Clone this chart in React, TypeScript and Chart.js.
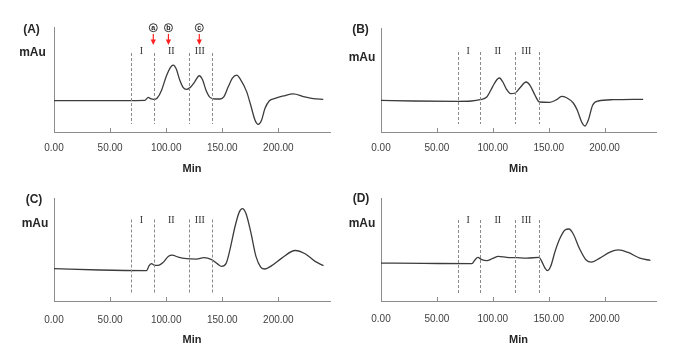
import React, { useEffect, useRef } from 'react';
import { Chart, registerables } from 'chart.js';

Chart.register(...registerables);

// ---- data ----
const xTicks = [0, 50, 100, 150, 200];
const fractionBounds = [69, 89, 120, 141];
const fractionNames = ['I', 'II', 'III'];
const fractionNameX = [78, 104.5, 130];
const markerNames = ['a', 'b', 'c'];
const markerX = [88.5, 102, 129.5];

const timeA = [0, 40, 81, 84, 86, 89, 92, 96, 100, 104, 106.3, 109, 112, 115, 118, 121, 125, 129.5, 132.4, 135.4, 139, 143.5, 148, 151.5, 155.4, 159, 162.8, 166.4, 171.7, 175.3, 179.2, 182, 185, 188, 192, 197, 204.5, 213.4, 222.3, 231, 240];
const mauA = [31, 31, 31.3, 34.3, 33, 32.3, 33.7, 41.7, 55, 64.3, 66.3, 62.3, 51.7, 44.3, 42.3, 43.7, 49, 55.7, 51.7, 41.7, 34.3, 32.7, 32.7, 35, 45, 53.3, 56.3, 51.7, 40, 26.7, 11.7, 7.7, 11.7, 23.3, 31, 33.3, 35.7, 37.7, 35, 33, 32.3];

const timeB = [0, 29, 68, 81, 88.7, 94.6, 100, 103.6, 106, 109, 112.5, 116, 120, 124.4, 129.8, 133.3, 137.8, 141.7, 151, 157, 161.6, 166, 172, 175.6, 179.5, 182.4, 185.4, 189.3, 194.3, 207.7, 234.5];
const mauB = [31.7, 31, 30.7, 31, 32.3, 35, 45.7, 52.3, 54, 50, 42.3, 38.3, 39, 44.3, 50, 46.7, 36.7, 30, 29.7, 32.3, 35.7, 34.3, 29, 21.7, 10, 6, 11.7, 26.7, 31, 32.3, 32.7];

const timeC = [0, 40.8, 82.4, 84.8, 86.9, 89, 92.9, 97.3, 101.8, 105.4, 110.7, 118.2, 127, 133.6, 140.5, 145.5, 149.4, 153.3, 156.8, 161.3, 165.2, 167.9, 171.1, 175.3, 180, 184.2, 188, 194, 203, 214.9, 223.8, 232.7, 240.2];
const mauC = [32.7, 31.3, 30.7, 35.7, 37.7, 36.3, 36, 39, 45, 46.3, 44.3, 42.7, 42.3, 43.7, 41.7, 37.7, 35, 37.7, 51.7, 75, 90, 93.3, 88.3, 70, 45, 34.3, 32.3, 35.7, 43.3, 51, 47.7, 40, 35.7];

const timeD = [0, 38, 81.3, 84.2, 86.6, 90.2, 94.6, 100, 105, 112.5, 121.4, 130.4, 141.4, 143.8, 146.7, 149.1, 151.8, 155.7, 160.1, 164.6, 168.2, 172, 177.4, 183.3, 188.4, 195.8, 204.8, 212.2, 221.1, 231.5, 241];
const mauD = [38.3, 38, 37.7, 41.7, 44, 41.7, 40.7, 43, 45, 44, 43.7, 43.3, 44, 40, 33.3, 30.7, 35, 50, 63.3, 71.7, 72.7, 67.7, 53.3, 41.7, 39.3, 43.3, 49.3, 51.7, 49, 43.3, 41];

// ---- layout of the four panels ----
type Panel = {
  name: string; times: number[]; values: number[];
  left: number; top: number; w: number; h: number;
  padL: number; padT: number; padR: number; xH: number; tickPad: number;
  nameX: number; nameY: number; mauX: number; mauY: number; minY: number;
  romanY: number; dashTop: number; dashBottom: number; markers: boolean;
};

const panels: Panel[] = [
  { name: '(A)', times: timeA, values: mauA, left: 0, top: 0, w: 340, h: 176, padL: 54, padT: 27, padR: 10, xH: 44, tickPad: 10.5,
    nameX: 31.5, nameY: 29.5, mauX: 32.5, mauY: 53, minY: 169, romanY: 51, dashTop: 53, dashBottom: 124, markers: true },
  { name: '(B)', times: timeB, values: mauB, left: 340, top: 0, w: 343, h: 176, padL: 41, padT: 28, padR: 27, xH: 44, tickPad: 10.5,
    nameX: 20.5, nameY: 29.5, mauX: 22, mauY: 57.5, minY: 169, romanY: 51, dashTop: 52, dashBottom: 124, markers: false },
  { name: '(C)', times: timeC, values: mauC, left: 0, top: 176, w: 340, h: 176, padL: 54, padT: 22, padR: 10, xH: 51, tickPad: 13.3,
    nameX: 34, nameY: 23.5, mauX: 35, mauY: 48, minY: 164, romanY: 44, dashTop: 43.5, dashBottom: 117.5, markers: false },
  { name: '(D)', times: timeD, values: mauD, left: 340, top: 176, w: 343, h: 176, padL: 41, padT: 22, padR: 27, xH: 51, tickPad: 12.3,
    nameX: 21, nameY: 23, mauX: 22, mauY: 48, minY: 163.5, romanY: 44, dashTop: 44, dashBottom: 117.5, markers: false },
];

const AXIS = '#8c8c8c';
const TEXT = '#262626';

const overlay = {
  id: 'overlay',
  afterDraw(chart: any, _args: any, opts: any) {
    const p: Panel = opts.panel;
    const { ctx, chartArea } = chart;
    const xs = chart.scales.x;
    ctx.save();
    // inward tick marks
    ctx.strokeStyle = AXIS;
    ctx.lineWidth = 1;
    xTicks.forEach((v) => {
      const px = Math.round(xs.getPixelForValue(v)) + 0.5;
      ctx.beginPath();
      ctx.moveTo(px, chartArea.bottom);
      ctx.lineTo(px, chartArea.bottom - 4);
      ctx.stroke();
    });
    // dashed fraction boundaries
    ctx.setLineDash([3, 2]);
    ctx.strokeStyle = '#8a8a8a';
    fractionBounds.forEach((v) => {
      const px = Math.round(xs.getPixelForValue(v)) + 0.5;
      ctx.beginPath();
      ctx.moveTo(px, p.dashTop);
      ctx.lineTo(px, p.dashBottom);
      ctx.stroke();
    });
    ctx.setLineDash([]);
    // roman numerals
    ctx.font = '10px "Liberation Serif"';
    ctx.fillStyle = '#333';
    ctx.textAlign = 'center';
    ctx.textBaseline = 'middle';
    fractionNames.forEach((n, i) => {
      ctx.fillText(n, xs.getPixelForValue(fractionNameX[i]), p.romanY);
    });
    // panel name and axis titles
    ctx.fillStyle = TEXT;
    ctx.font = 'bold 12px "Liberation Sans"';
    ctx.fillText(p.name, p.nameX, p.nameY);
    ctx.fillText('mAu', p.mauX, p.mauY);
    ctx.font = 'bold 11px "Liberation Sans"';
    ctx.fillText('Min', (chartArea.left + chartArea.right) / 2, p.minY);
    // circled markers with red arrows
    if (p.markers) {
      markerNames.forEach((m, i) => {
        const px = xs.getPixelForValue(markerX[i]);
        ctx.beginPath();
        ctx.arc(px, 27.7, 4, 0, Math.PI * 2);
        ctx.strokeStyle = '#333';
        ctx.lineWidth = 1;
        ctx.stroke();
        ctx.fillStyle = '#222';
        ctx.font = 'bold 7px "Liberation Sans"';
        ctx.fillText(m, px, 28);
        ctx.strokeStyle = '#ff2020';
        ctx.lineWidth = 1.2;
        ctx.beginPath();
        ctx.moveTo(px, 34);
        ctx.lineTo(px, 41);
        ctx.stroke();
        ctx.fillStyle = '#ff2020';
        ctx.beginPath();
        ctx.moveTo(px - 2.6, 39.5);
        ctx.lineTo(px + 2.6, 39.5);
        ctx.lineTo(px, 45);
        ctx.closePath();
        ctx.fill();
      });
    }
    ctx.restore();
  },
};

function PanelChart({ p }: { p: Panel }) {
  const ref = useRef<HTMLCanvasElement>(null);
  useEffect(() => {
    if (!ref.current) return;
    const chart = new Chart(ref.current, {
      type: 'line',
      data: {
        datasets: [
          {
            data: p.times.map((t, i) => ({ x: t, y: p.values[i] })),
            borderColor: '#3c3c3c',
            borderWidth: 1.3,
            pointRadius: 0,
            cubicInterpolationMode: 'monotone',
            fill: false,
          },
        ],
      },
      options: {
        responsive: false,
        animation: false,
        events: [],
        layout: { padding: { left: p.padL, top: p.padT, right: p.padR, bottom: 0 } },
        plugins: { legend: { display: false }, tooltip: { enabled: false }, overlay: { panel: p } } as any,
        scales: {
          x: {
            type: 'linear',
            min: 0,
            max: 246,
            afterBuildTicks: (s: any) => { s.ticks = xTicks.map((v) => ({ value: v })); },
            afterFit: (s: any) => { s.height = p.xH; },
            grid: { display: false, drawTicks: false },
            border: { display: true, color: AXIS, width: 1 },
            ticks: {
              padding: p.tickPad,
              autoSkip: false,
              maxRotation: 0,
              color: '#404040',
              font: { family: '"Liberation Sans"', size: 10 },
              callback: (v: any) => Number(v).toFixed(2),
            },
          },
          y: {
            type: 'linear',
            min: 0,
            max: 104,
            afterFit: (s: any) => { s.width = 0; },
            grid: { display: false, drawTicks: false },
            border: { display: true, color: AXIS, width: 1 },
            ticks: { display: false },
          },
        },
      },
      plugins: [overlay],
    } as any);
    return () => chart.destroy();
  }, [p]);
  return (
    <canvas
      ref={ref}
      width={p.w}
      height={p.h}
      style={{ position: 'absolute', left: p.left, top: p.top, width: p.w, height: p.h }}
    />
  );
}

export default function App() {
  return (
    <div style={{ position: 'absolute', left: 0, top: 0, width: 683, height: 352, background: '#fff' }}>
      {panels.map((p) => (
        <PanelChart key={p.name} p={p} />
      ))}
    </div>
  );
}
